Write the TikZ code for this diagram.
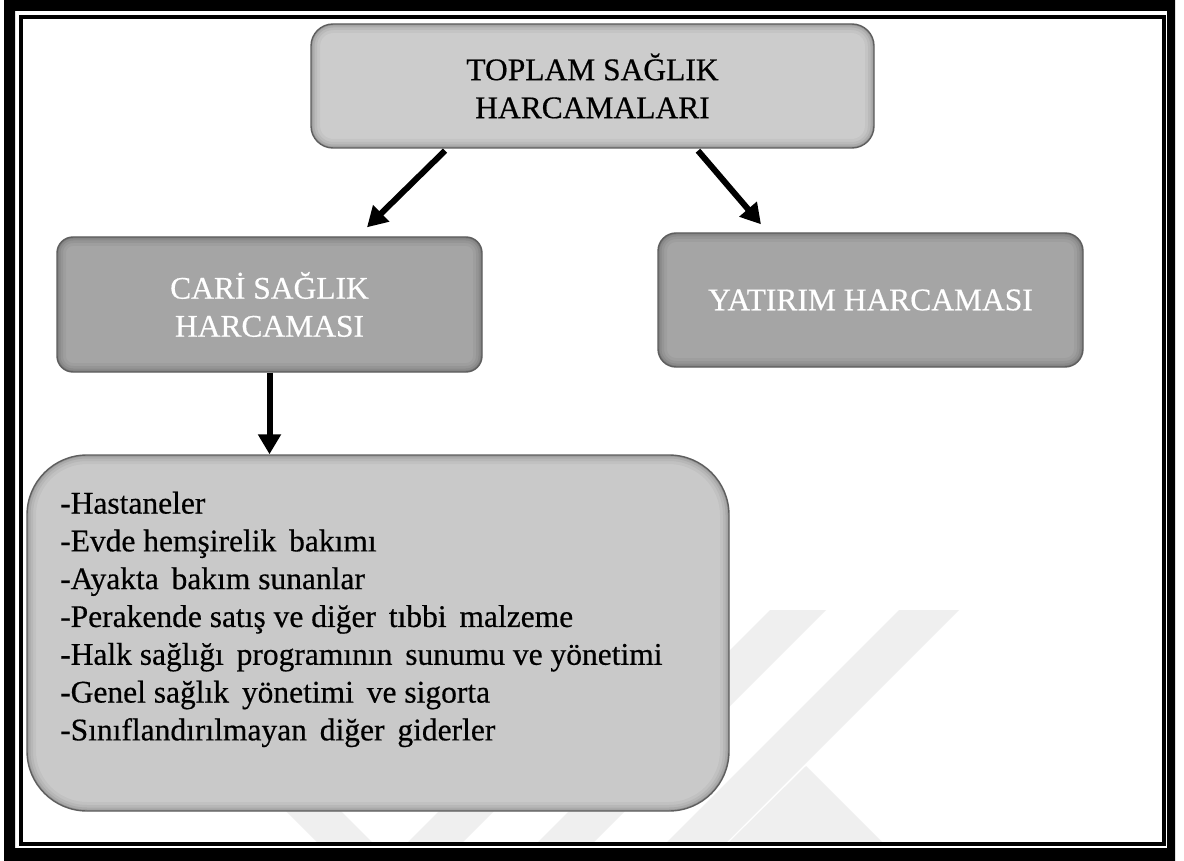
\documentclass[tikz,border=0pt]{standalone}
\usepackage{fontspec}
\setmainfont{Liberation Serif}
\newfontfamily\wordfont{Liberation Serif}[FakeBold=0.5]
\usetikzlibrary{arrows.meta}

\definecolor{paleBox}{HTML}{CCCCCC}
\definecolor{midBox}{HTML}{A5A5A5}
\definecolor{listBox}{HTML}{C9C9C9}
\definecolor{rim}{HTML}{5E5E5E}
\definecolor{wmgray}{HTML}{EFEFEF}

% slightly wider gap between some words of the list
\newcommand\wgap{\hspace{5pt}}

\begin{document}
\begin{tikzpicture}[x=1pt,y=-1pt,
  bevel/.style={path picture={
      \foreach \w/\o in {18/0.04,12/0.05,7/0.07,3/0.10}{
        \draw[line width=\w pt, black, opacity=\o, rounded corners=#1]
          (path picture bounding box.south west) rectangle
          (path picture bounding box.north east);}}},
  box/.style={draw=rim, line width=1.4pt, rounded corners=#1, inner sep=0pt,
    align=center, font=\wordfont\fontsize{31.5}{38}\selectfont, bevel=#1},
  arr/.style={line width=6pt, -{Triangle[width=22pt,length=20pt]}},
  txt/.style={font=\wordfont\fontsize{31.5}{37.8}\selectfont, inner sep=0pt, align=left},
]
\useasboundingbox (0,0) rectangle (1184,861);
\fill[white] (0,0) rectangle (1184,861);

% faint background emblem
\begin{scope}
  \clip (23,19) rectangle (1161,842);
  \fill[wmgray] (770,610) -- (826,610) -- (591,845) -- (535,845) -- cycle;
  \fill[wmgray] (899,610) -- (959,610) -- (724,845) -- (664,845) -- cycle;
  \fill[wmgray] (806,766) -- (885,845) -- (726,845) -- cycle;
  \fill[wmgray] (505,745) -- (560,745) -- (460,845) -- (405,845) -- cycle;
  \fill[wmgray] (215,740) -- (270,740) -- (375,845) -- (320,845) -- cycle;
\end{scope}

% page frame: thick outer band and thin inner rule
\fill[black, even odd rule] (4,-10) rectangle (1175,871) (15,11) rectangle (1167,848);
\draw[line width=4pt] (21,17) rectangle (1163.5,843.5);

% boxes
\node[box=22pt, fill=paleBox, minimum width=563pt, minimum height=124pt]
  (top) at (592.5,86) {TOPLAM SAĞLIK\\HARCAMALARI};
\node[box=16pt, fill=midBox, text=white, minimum width=425pt, minimum height=135pt]
  (cari) at (269.5,304.5) {CARİ SAĞLIK\\HARCAMASI};
\node[box=18pt, fill=midBox, text=white, minimum width=425pt, minimum height=134pt]
  (yat) at (870.5,300) {YATIRIM HARCAMASI};
\node[box=60pt, fill=listBox, minimum width=702pt, minimum height=356pt]
  (list) at (378,633) {};
\node[txt, anchor=north west] (items) at (60,491.5) {%
  -Hastaneler\\
  -Evde hemşirelik\wgap{} bakımı\\
  -Ayakta\wgap{} bakım sunanlar\\
  -Perakende satış ve diğer\wgap{} tıbbi\wgap{} malzeme\\
  -Halk sağlığı\wgap{} programının\wgap{} sunumu ve yönetimi\\
  -Genel sağlık\wgap{} yönetimi\wgap{} ve sigorta\\
  -Sınıflandırılmayan\wgap{} diğer\wgap{} giderler};

% connectors
\draw[arr] ([xshift=-147.5pt,yshift=-2pt]top.south) -- ([xshift=97.5pt,yshift=9pt]cari.north);
\draw[arr] ([xshift=105.5pt,yshift=-2pt]top.south) -- ([xshift=-109.5pt,yshift=8pt]yat.north);
\draw[arr] (cari.south) -- (cari.south |- list.north);
\end{tikzpicture}
\end{document}
